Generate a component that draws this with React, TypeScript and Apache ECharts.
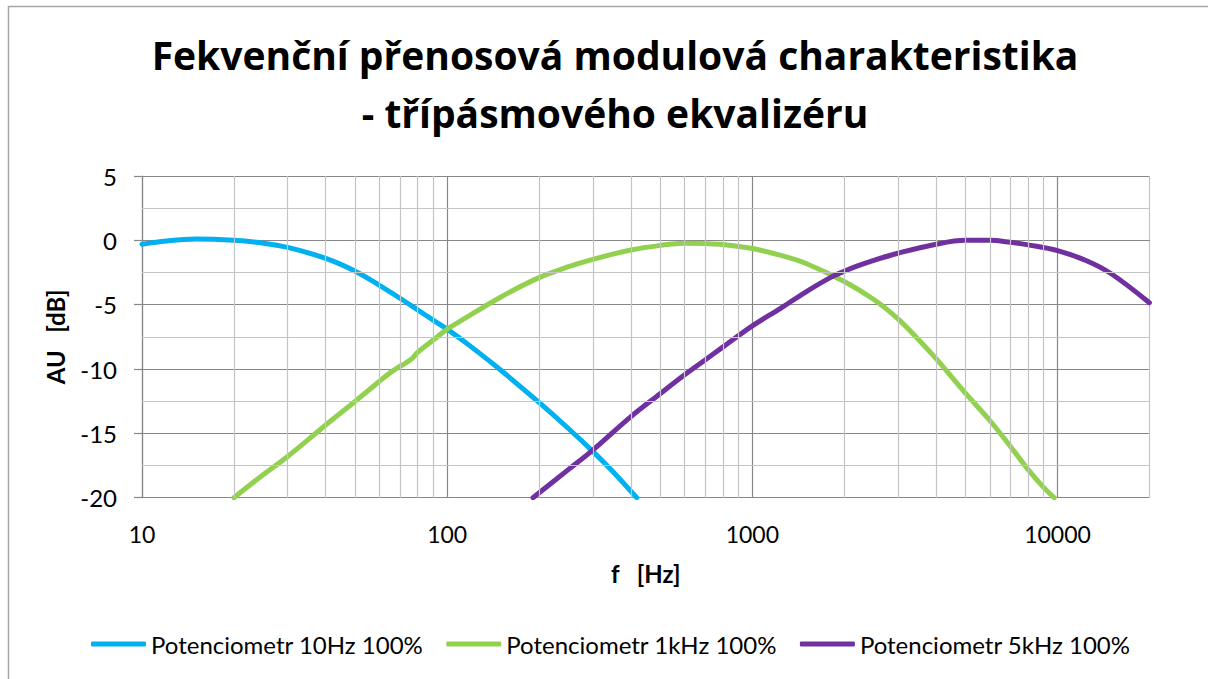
import React, { useEffect, useRef } from "react";
import * as echarts from "echarts";

// Frequency response of a three-band equalizer, each band pot at 100 %
const bassFreq = [10, 12, 15, 20, 25, 30, 40, 50, 60, 70, 80, 90, 100, 120, 150, 200, 250, 300, 350, 418];
const bassDb = [-0.3, -0.05, 0.1, 0.0, -0.22, -0.55, -1.4, -2.4, -3.5, -4.5, -5.4, -6.2, -6.9, -8.28, -10.1, -12.6, -14.64, -16.4, -18.0, -20];

const midFreq = [20, 25, 30, 40, 50, 60, 65, 70, 73, 77, 80, 90, 100, 110, 150, 200, 250, 300, 400, 500, 600, 700, 800, 1000, 1250, 1500, 2000, 2500, 3000, 3500, 4000, 5000, 6000, 7000, 8000, 9000, 9750];
const midDb = [-20, -18.2, -16.8, -14.35, -12.5, -10.95, -10.3, -9.8, -9.55, -9.15, -8.7, -7.75, -6.9, -6.3, -4.4, -2.9, -2.05, -1.48, -0.75, -0.39, -0.23, -0.25, -0.32, -0.64, -1.19, -1.8, -3.2, -4.6, -6.1, -7.7, -9.2, -11.9, -14.0, -16.0, -17.8, -19.2, -20];

const trebleFreq = [191, 250, 300, 400, 500, 600, 700, 800, 1000, 1234, 1500, 1800, 2000, 2200, 2500, 3000, 4000, 5000, 6000, 7000, 8000, 10000, 12500, 15000, 20000];
const trebleDb = [-20, -17.8, -16.3, -13.7, -11.9, -10.45, -9.3, -8.3, -6.65, -5.3, -4.0, -2.9, -2.4, -2.0, -1.55, -1.0, -0.3, 0.0, 0.0, -0.15, -0.35, -0.8, -1.6, -2.6, -4.85];

const seriesNames = ["Potenciometr 10Hz 100%", "Potenciometr 1kHz 100%", "Potenciometr 5kHz 100%"];
const seriesColors = ["#00b0f0", "#92d050", "#7030a0"];

// Minor grid positions: 2..9 of every decade, and half steps of the dB axis
const minorFreqs = [20, 30, 40, 50, 60, 70, 80, 90, 200, 300, 400, 500, 600, 700, 800, 900, 2000, 3000, 4000, 5000, 6000, 7000, 8000, 9000];
const minorDb = [-17.5, -12.5, -7.5, -2.5, 2.5];

const titleLines = ["Fekvenční přenosová modulová charakteristika", "- třípásmového ekvalizéru"];

const FONT = "Lato, 'Open Sans', sans-serif";
const TITLE_FONT = "'Open Sans', Lato, sans-serif";
const MAJOR = "#878787";
const MINOR = "#c4c4c4";

const pairs = (xs: number[], ys: number[]) => xs.map((x, i) => [x, ys[i]]);

export default function App() {
  const ref = useRef<HTMLDivElement>(null);

  useEffect(() => {
    if (!ref.current) return;
    const chart = echarts.init(ref.current, null, { renderer: "svg" });

    const curve = (i: number, data: number[][]) => ({
      name: seriesNames[i],
      type: "line",
      data,
      smooth: 0.35,
      showSymbol: false,
      symbol: "none",
      z: 3,
      lineStyle: { color: seriesColors[i], width: 5, cap: "round" },
      itemStyle: { color: seriesColors[i] },
    });

    chart.setOption({
      animation: false,
      backgroundColor: "#ffffff",
      title: {
        text: titleLines.join("\n"),
        left: 610,
        top: 20,
        textAlign: "center",
        textStyle: {
          fontFamily: TITLE_FONT,
          fontWeight: "bold",
          fontSize: 39,
          lineHeight: 58,
          color: "#000",
        },
      },
      graphic: [
        {
          type: "rect",
          silent: true,
          z: -10,
          shape: { x: 8.5, y: 6.5, width: 1400, height: 900 },
          style: { fill: "none", stroke: "#a6a6a6", lineWidth: 1.5 },
        },
      ],
      legend: {
        data: seriesNames,
        left: 86,
        top: 627,
        itemWidth: 55,
        itemHeight: 5,
        itemGap: 23,
        icon: "roundRect",
        textStyle: { fontFamily: FONT, fontSize: 24, color: "#000" },
      },
      grid: { left: 142, top: 176, right: 58.6, bottom: 181.3, containLabel: false },
      xAxis: {
        type: "log",
        logBase: 10,
        min: 10,
        max: 20000,
        name: "f   [Hz]",
        nameLocation: "middle",
        nameGap: 64,
        nameTextStyle: { fontFamily: FONT, fontWeight: "bold", fontSize: 24, color: "#000" },
        axisLine: { show: true, lineStyle: { color: MAJOR, width: 1.2 } },
        axisTick: { show: false },
        axisLabel: {
          margin: 25,
          fontFamily: FONT,
          fontSize: 23,
          color: "#000",
          showMaxLabel: false,
          formatter: (v: number) => {
            const l = Math.log10(v);
            return Math.abs(l - Math.round(l)) < 1e-6 ? String(Math.round(v)) : "";
          },
        },
        splitLine: {
          show: true,
          lineStyle: { color: [MAJOR, MAJOR, MAJOR, MAJOR, MINOR], width: 1.2 },
        },
      },
      yAxis: {
        type: "value",
        min: -20,
        max: 5,
        interval: 5,
        name: "AU   [dB]",
        nameLocation: "middle",
        nameGap: 75,
        nameTextStyle: { fontFamily: FONT, fontWeight: "bold", fontSize: 24, color: "#000" },
        axisLine: { show: true, lineStyle: { color: MAJOR, width: 1.2 } },
        axisTick: { show: true, inside: false, length: 8, lineStyle: { color: MAJOR, width: 1.2 } },
        axisLabel: { margin: 25, fontFamily: FONT, fontSize: 24, color: "#000" },
        splitLine: { show: true, lineStyle: { color: MAJOR, width: 1.2 } },
      },
      series: [
        {
          name: "minor-grid",
          type: "line",
          data: [],
          z: 1,
          silent: true,
          markLine: {
            silent: true,
            symbol: ["none", "none"],
            label: { show: false },
            emphasis: { disabled: true },
            lineStyle: { color: MINOR, width: 1.2, type: "solid" },
            data: [
              ...minorFreqs.map((f) => ({ xAxis: f })),
              ...minorDb.map((d) => ({ yAxis: d })),
            ],
          },
        },
        curve(0, pairs(bassFreq, bassDb)),
        curve(1, pairs(midFreq, midDb)),
        curve(2, pairs(trebleFreq, trebleDb)),
      ],
    });

    return () => chart.dispose();
  }, []);

  return (
    <div
      ref={ref}
      style={{ position: "fixed", left: 0, top: 0, width: 1208, height: 679, background: "#fff" }}
    />
  );
}
